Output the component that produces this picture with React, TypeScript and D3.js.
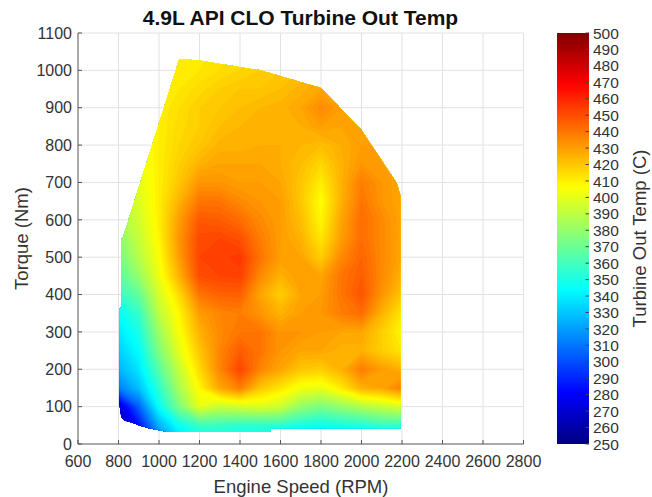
import React from "react";
import * as d3 from "d3";

const speeds = [800, 900, 1000, 1100, 1200, 1300, 1400, 1500, 1600, 1700, 1800, 1900, 2000, 2100, 2200];
const torques = [0, 50, 100, 150, 200, 250, 300, 350, 400, 450, 500, 550, 600, 650, 700, 750, 800, 850, 900, 950, 1000, 1050];
// Turbine out temperature (C), one row per torque value above
const temps: number[][] = [
  [250, 265, 300, 330, 340, 340, 340, 340, 342, 342, 340, 340, 342, 345, 345],
  [255, 285, 325, 347, 358, 358, 355, 355, 355, 350, 347, 350, 352, 357, 357],
  [270, 305, 345, 374, 400, 392, 395, 398, 394, 380, 374, 380, 387, 392, 397],
  [312, 328, 355, 385, 408, 428, 438, 420, 412, 403, 401, 411, 425, 428, 438],
  [325, 338, 365, 392, 415, 436, 452, 436, 428, 420, 418, 425, 438, 430, 425],
  [332, 344, 375, 400, 420, 436, 446, 440, 432, 428, 428, 425, 425, 418, 412],
  [338, 350, 382, 405, 425, 435, 440, 440, 432, 432, 430, 428, 428, 418, 408],
  [344, 357, 390, 408, 430, 436, 438, 432, 425, 430, 432, 438, 442, 425, 412],
  [356, 368, 396, 415, 440, 445, 445, 428, 418, 428, 430, 440, 448, 432, 420],
  [366, 380, 402, 425, 450, 452, 453, 435, 425, 430, 428, 440, 446, 435, 425],
  [372, 388, 405, 430, 452, 453, 455, 440, 430, 428, 418, 435, 444, 435, 428],
  [378, 392, 408, 432, 451, 452, 449, 438, 430, 425, 412, 430, 442, 435, 428],
  [385, 395, 410, 430, 447, 446, 442, 435, 430, 422, 408, 428, 442, 435, 428],
  [390, 398, 410, 425, 440, 440, 435, 432, 430, 420, 406, 425, 440, 432, 428],
  [392, 400, 410, 420, 432, 432, 430, 430, 428, 420, 410, 425, 438, 432, 428],
  [395, 402, 410, 418, 425, 428, 428, 428, 426, 422, 416, 425, 432, 430, 428],
  [398, 403, 410, 416, 420, 425, 425, 426, 426, 424, 422, 426, 430, 430, 428],
  [400, 405, 410, 415, 418, 422, 424, 425, 425, 426, 430, 428, 428, 428, 428],
  [402, 406, 410, 414, 418, 420, 422, 424, 425, 428, 435, 430, 428, 428, 428],
  [404, 407, 410, 412, 415, 418, 420, 420, 422, 425, 428, 428, 428, 428, 428],
  [405, 408, 410, 410, 412, 414, 416, 418, 420, 422, 425, 426, 426, 426, 426],
  [405, 408, 410, 410, 411, 413, 415, 417, 419, 421, 424, 425, 425, 425, 425],
];
// Operating envelope (RPM, Nm)
const boundary: [number, number][] = [
  [805, 112], [805, 362], [814, 366], [814, 548], [822, 553], [1100, 1030], [1190, 1027],
  [1500, 1000], [1800, 953], [2000, 840], [2175, 697], [2192, 665], [2192, 42],
  [1550, 42], [1550, 32], [1045, 32], [1000, 37], [950, 42], [900, 50], [880, 55],
  [830, 63], [815, 70], [808, 90],
];
const xTicks = [600, 800, 1000, 1200, 1400, 1600, 1800, 2000, 2200, 2400, 2600, 2800];
const yTicks = [0, 100, 200, 300, 400, 500, 600, 700, 800, 900, 1000, 1100];
const cbTicks = [250, 260, 270, 280, 290, 300, 310, 320, 330, 340, 350, 360, 370, 380, 390, 400, 410, 420, 430, 440, 450, 460, 470, 480, 490, 500];

const W = 652, H = 497;
const PL = 78, PR = 523.5, PT = 33, PB = 444;
const CBX0 = 557, CBX1 = 589;
const font = "'Liberation Sans', Arial, Helvetica, sans-serif";

function jet(v: number) {
  const t = (v - 250) / 250;
  const c = (x: number) => Math.max(0, Math.min(1, x));
  const r = c(1.5 - Math.abs(4 * t - 3));
  const g = c(1.5 - Math.abs(4 * t - 2));
  const b = c(1.5 - Math.abs(4 * t - 1));
  return d3.rgb(r * 255, g * 255, b * 255).formatHex();
}

export default function App() {
  const x = d3.scaleLinear().domain([600, 2800]).range([PL, PR]);
  const y = d3.scaleLinear().domain([0, 1100]).range([PB, PT]);
  const cb = d3.scaleLinear().domain([250, 500]).range([PB, PT]);

  const nx = speeds.length, ny = torques.length;
  const values: number[] = [];
  for (let j = 0; j < ny; j++) for (let i = 0; i < nx; i++) values.push(temps[j][i]);
  const gx = d3.scaleLinear().domain([0.5, nx - 0.5]).range([speeds[0], speeds[nx - 1]]);
  const gy = d3.scaleLinear().domain([0.5, ny - 0.5]).range([torques[0], torques[ny - 1]]);
  const levels = d3.range(250, 500, 2);
  const contours = d3.contours().size([nx, ny]).thresholds(levels)(values);
  const proj = d3.geoTransform({
    point(px: number, py: number) {
      (this as any).stream.point(x(gx(px)), y(gy(py)));
    },
  });
  const path = d3.geoPath(proj as any);
  const clipD = "M" + boundary.map(([s, t]) => `${x(s)},${y(t)}`).join("L") + "Z";

  const stops = d3.range(0, 101).map((k) => ({ off: k, col: jet(250 + k * 2.5) }));

  return (
    <svg width={W} height={H} style={{ position: "absolute", left: 0, top: 0, background: "#fff" }} fontFamily={font}>
      <defs>
        <clipPath id="env">
          <path d={clipD} />
        </clipPath>
        <linearGradient id="cbg" x1="0" y1="1" x2="0" y2="0">
          {stops.map((s) => (
            <stop key={s.off} offset={`${s.off}%`} stopColor={s.col} />
          ))}
        </linearGradient>
      </defs>
      <rect width={W} height={H} fill="#fff" />
      {/* grid */}
      <g stroke="#e2e2e2" strokeWidth={1}>
        {xTicks.slice(1).map((t) => (
          <line key={"gx" + t} x1={x(t)} x2={x(t)} y1={PT} y2={PB} />
        ))}
        {yTicks.slice(1).map((t) => (
          <line key={"gy" + t} x1={PL} x2={PR} y1={y(t)} y2={y(t)} />
        ))}
      </g>
      {/* filled contours */}
      <g clipPath="url(#env)">
        {contours.map((c: any) => (
          <path key={c.value} d={path(c) || ""} fill={jet(c.value + 1)} stroke={jet(c.value + 1)} strokeWidth={0.3} />
        ))}
      </g>
      {/* axes */}
      <g stroke="#555" strokeWidth={1} fill="none">
        <line x1={PL} x2={PR} y1={PB} y2={PB} />
        <line x1={PL} x2={PL} y1={PT} y2={PB} />
        {xTicks.map((t) => (
          <line key={"tx" + t} x1={x(t)} x2={x(t)} y1={PB} y2={PB - 4} />
        ))}
        {yTicks.map((t) => (
          <line key={"ty" + t} x1={PL} x2={PL + 4} y1={y(t)} y2={y(t)} />
        ))}
      </g>
      <g fill="#333" fontSize={16}>
        {xTicks.map((t) => (
          <text key={"lx" + t} x={x(t)} y={467} textAnchor="middle">{t}</text>
        ))}
        {yTicks.map((t) => (
          <text key={"ly" + t} x={72} y={y(t)} dy="0.36em" textAnchor="end">{t}</text>
        ))}
      </g>
      <text x={301} y={493} textAnchor="middle" fontSize={18.5} fill="#333">Engine Speed (RPM)</text>
      <text transform={`translate(28,${(PT + PB) / 2}) rotate(-90)`} textAnchor="middle" fontSize={18.5} fill="#333">Torque (Nm)</text>
      <text x={300.5} y={25} textAnchor="middle" fontSize={21} fontWeight="bold" fill="#111">4.9L API CLO Turbine Out Temp</text>
      {/* colorbar */}
      <rect x={CBX0} y={PT} width={CBX1 - CBX0} height={PB - PT} fill="url(#cbg)" />
      <g stroke="#444" strokeWidth={1}>
        {cbTicks.map((t) => (
          <line key={"ct" + t} x1={CBX1 - 3.5} x2={CBX1} y1={cb(t)} y2={cb(t)} />
        ))}
      </g>
      <g fill="#333" fontSize={15.5}>
        {cbTicks.map((t) => (
          <text key={"cl" + t} x={593} y={cb(t)} dy="0.36em">{t}</text>
        ))}
      </g>
      <text transform={`translate(646,${(PT + PB) / 2}) rotate(-90)`} textAnchor="middle" fontSize={18.5} fill="#333">Turbine Out Temp (C)</text>
    </svg>
  );
}
